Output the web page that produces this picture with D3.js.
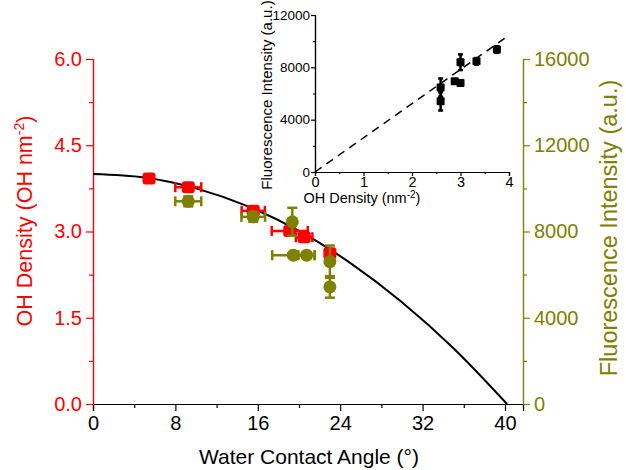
<!DOCTYPE html>
<html>
<head>
<meta charset="utf-8">
<script src="https://cdn.jsdelivr.net/npm/d3@7"></script>
<style>
  body { margin: 0; background: #fff; }
  svg { font-family: "Liberation Sans", Arial, sans-serif; }
</style>
</head>
<body>
<div id="chart"></div>
<script>
// OH density (red squares) vs water contact angle
const angleRed = [5.44, 9.25, 15.56, 19.1, 20.5, 23.0];
const ohDensity = [3.92, 3.77, 3.36, 3.01, 2.90, 2.62];
const angleErrRed = [0, 1.26, 1.13, 1.75, 0.8, 0];

// fluorescence (olive circles) vs water contact angle
const angleOlive = [9.25, 15.56, 19.35, 19.45, 20.74, 23.0, 23.0];
const fluorescence = [9400, 8680, 8450, 6900, 6900, 6600, 5430];
const angleErrOlive = [1.26, 1.15, 0, 2.05, 0.8, 0, 0];
const fluorErr = [230, 230, 650, 0, 0, 750, 500];

// fitted curve
const fitAngle = [0, 5, 10, 15, 20, 25, 30, 35, 40.2];
const fitDensity = [4.0, 3.94, 3.75, 3.44, 3.01, 2.45, 1.77, 0.97, 0.0];

// inset: fluorescence vs OH density
const insetOH = [2.59, 2.59, 2.88, 3.0, 3.0, 3.33, 3.75];
const insetFluor = [5400, 6450, 6930, 6800, 8390, 8460, 9360];
const insetErr = [700, 700, 0, 0, 600, 250, 250];
const insetFitOH = [0, 4];
const insetFitFluor = [0, 10450];

const xTicks = [0, 8, 16, 24, 32, 40];
const yLeftTicks = [0, 1.5, 3.0, 4.5, 6.0];
const yRightTicks = [0, 4000, 8000, 12000, 16000];

const RED = "#ff0000";
const OLIVE = "#808000";

let svg = d3.select("#chart").append("svg")
    .attr("width", 626)
    .attr("height", 470);

// main scales
let x = d3.scaleLinear().domain([0, 41.75]).range([93, 523]);
let yL = d3.scaleLinear().domain([0, 6]).range([404, 59]);
let yR = d3.scaleLinear().domain([0, 16000]).range([404, 59]);

function styleAxis(g, color, size) {
    g.select(".domain").attr("stroke", color).attr("stroke-width", 1.2);
    g.selectAll(".tick line").attr("stroke", color).attr("stroke-width", 1.2);
    g.selectAll(".tick text").attr("fill", color).style("font-size", size + "px")
        .style("font-family", "Liberation Sans, Arial, sans-serif");
}

// minor ticks
let xMinor = svg.append("g").attr("transform", "translate(0,404)")
    .call(d3.axisBottom(x).tickValues(d3.range(4, 41, 8)).tickSize(4).tickFormat(""));
styleAxis(xMinor, "#000", 20);
let yLMinor = svg.append("g").attr("transform", "translate(93,0)")
    .call(d3.axisLeft(yL).tickValues([0.75, 2.25, 3.75, 5.25]).tickSize(4).tickFormat(""));
styleAxis(yLMinor, RED, 20);
let yRMinor = svg.append("g").attr("transform", "translate(523,0)")
    .call(d3.axisRight(yR).tickValues([2000, 6000, 10000, 14000]).tickSize(4).tickFormat(""));
styleAxis(yRMinor, OLIVE, 20);

// major axes
let xAxis = svg.append("g").attr("transform", "translate(0,404)")
    .call(d3.axisBottom(x).tickValues(xTicks).tickSize(7).tickPadding(5).tickFormat(d3.format("d")));
styleAxis(xAxis, "#000", 20);
let yLAxis = svg.append("g").attr("transform", "translate(93,0)")
    .call(d3.axisLeft(yL).tickValues(yLeftTicks).tickSize(7).tickPadding(4).tickFormat(d3.format(".1f")));
styleAxis(yLAxis, RED, 20);
let yRAxis = svg.append("g").attr("transform", "translate(523,0)")
    .call(d3.axisRight(yR).tickValues(yRightTicks).tickSize(7).tickPadding(4).tickFormat(d3.format("d")));
styleAxis(yRAxis, OLIVE, 20);

// axis titles
svg.append("text")
    .attr("x", 309).attr("y", 464)
    .attr("text-anchor", "middle")
    .style("font-size", "21px")
    .text("Water Contact Angle (°)");

let leftTitle = svg.append("text")
    .attr("transform", "translate(32,221) rotate(-90)")
    .attr("text-anchor", "middle")
    .attr("fill", RED)
    .style("font-size", "21.5px");
leftTitle.append("tspan").text("OH Density (OH nm");
leftTitle.append("tspan").attr("dy", -8).style("font-size", "14px").text("-2");
leftTitle.append("tspan").attr("dy", 8).text(")");

svg.append("text")
    .attr("transform", "translate(617,228) rotate(-90)")
    .attr("text-anchor", "middle")
    .attr("fill", OLIVE)
    .style("font-size", "23.5px")
    .text("Fluorescence Intensity (a.u.)");

// fit curve
let fitLine = d3.line()
    .x(d => x(d[0]))
    .y(d => yL(d[1]))
    .curve(d3.curveMonotoneX);
svg.append("path")
    .datum(d3.zip(fitAngle, fitDensity))
    .attr("d", fitLine)
    .attr("fill", "none")
    .attr("stroke", "#000")
    .attr("stroke-width", 2);

// error bar helper
function errorBars(g, px, py, xl, xr, yt, yb, color, cap) {
    if (xr - xl > 1) {
        g.append("line").attr("x1", xl).attr("x2", xr).attr("y1", py).attr("y2", py)
            .attr("stroke", color).attr("stroke-width", 2.5);
        g.append("line").attr("x1", xl).attr("x2", xl).attr("y1", py - cap).attr("y2", py + cap)
            .attr("stroke", color).attr("stroke-width", 2.5);
        g.append("line").attr("x1", xr).attr("x2", xr).attr("y1", py - cap).attr("y2", py + cap)
            .attr("stroke", color).attr("stroke-width", 2.5);
    }
    if (yb - yt > 1) {
        g.append("line").attr("x1", px).attr("x2", px).attr("y1", yt).attr("y2", yb)
            .attr("stroke", color).attr("stroke-width", 2.5);
        g.append("line").attr("x1", px - cap).attr("x2", px + cap).attr("y1", yt).attr("y2", yt)
            .attr("stroke", color).attr("stroke-width", 2.5);
        g.append("line").attr("x1", px - cap).attr("x2", px + cap).attr("y1", yb).attr("y2", yb)
            .attr("stroke", color).attr("stroke-width", 2.5);
    }
}

// red squares
let redG = svg.append("g");
angleRed.forEach((a, i) => {
    errorBars(redG, x(a), yL(ohDensity[i]),
        x(a - angleErrRed[i]), x(a + angleErrRed[i]), yL(ohDensity[i]), yL(ohDensity[i]), RED, 5);
    redG.append("rect")
        .attr("x", x(a) - 6.5).attr("y", yL(ohDensity[i]) - 6)
        .attr("width", 13).attr("height", 12).attr("rx", 3)
        .attr("fill", RED);
});

// olive circles
let oliveG = svg.append("g");
angleOlive.forEach((a, i) => {
    errorBars(oliveG, x(a), yR(fluorescence[i]),
        x(a - angleErrOlive[i]), x(a + angleErrOlive[i]),
        yR(fluorescence[i] + fluorErr[i]), yR(fluorescence[i] - fluorErr[i]), OLIVE, 5);
    oliveG.append("circle")
        .attr("cx", x(a)).attr("cy", yR(fluorescence[i]))
        .attr("r", 6.5)
        .attr("fill", OLIVE);
});

// inset
let ix = d3.scaleLinear().domain([0, 4]).range([315, 509]);
let iy = d3.scaleLinear().domain([0, 12000]).range([172, 15]);

let ixMinor = svg.append("g").attr("transform", "translate(0,172)")
    .call(d3.axisBottom(ix).tickValues([0.5, 1.5, 2.5, 3.5]).tickSize(2).tickFormat(""));
styleAxis(ixMinor, "#000", 14);
let iyMinor = svg.append("g").attr("transform", "translate(315,0)")
    .call(d3.axisLeft(iy).tickValues([2000, 6000, 10000]).tickSize(2).tickFormat(""));
styleAxis(iyMinor, "#000", 14);
let ixAxis = svg.append("g").attr("transform", "translate(0,172)")
    .call(d3.axisBottom(ix).tickValues([0, 1, 2, 3, 4]).tickSize(4).tickPadding(1).tickFormat(d3.format("d")));
styleAxis(ixAxis, "#000", 14.5);
let iyAxis = svg.append("g").attr("transform", "translate(315,0)")
    .call(d3.axisLeft(iy).tickValues([0, 4000, 8000, 12000]).tickSize(4).tickPadding(1).tickFormat(d3.format("d")));
styleAxis(iyAxis, "#000", 13.5);

let insetXTitle = svg.append("text")
    .attr("x", 362).attr("y", 203)
    .attr("text-anchor", "middle")
    .style("font-size", "14.5px");
insetXTitle.append("tspan").text("OH Density (nm");
insetXTitle.append("tspan").attr("dy", -5).style("font-size", "10px").text("-2");
insetXTitle.append("tspan").attr("dy", 5).text(")");

svg.append("text")
    .attr("transform", "translate(272,95) rotate(-90)")
    .attr("text-anchor", "middle")
    .style("font-size", "15px")
    .text("Fluorescence Intensity (a.u.)");

svg.append("path")
    .datum(d3.zip(insetFitOH, insetFitFluor))
    .attr("d", d3.line().x(d => ix(d[0])).y(d => iy(d[1])))
    .attr("fill", "none")
    .attr("stroke", "#000")
    .attr("stroke-width", 1.5)
    .attr("stroke-dasharray", "8,6");

let insetG = svg.append("g");
insetOH.forEach((v, i) => {
    errorBars(insetG, ix(v), iy(insetFluor[i]), ix(v), ix(v),
        iy(insetFluor[i] + insetErr[i]), iy(insetFluor[i] - insetErr[i]), "#000", 2.5);
    insetG.append("rect")
        .attr("x", ix(v) - 4).attr("y", iy(insetFluor[i]) - 4)
        .attr("width", 8).attr("height", 8).attr("rx", 1)
        .attr("fill", "#000");
});
</script>
</body>
</html>
